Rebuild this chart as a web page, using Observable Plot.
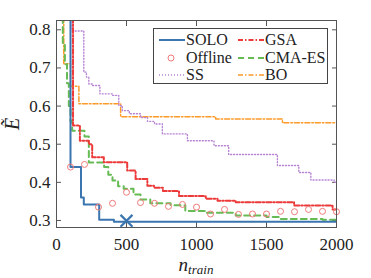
<!DOCTYPE html>
<html>
<head>
<meta charset="utf-8">
<script src="https://cdn.jsdelivr.net/npm/d3@7"></script>
<script src="https://cdn.jsdelivr.net/npm/@observablehq/plot@0.6"></script>
<style>
  body { margin: 0; background: #fff; }
  #wrap { position: relative; width: 371px; height: 278px; font-family: "Liberation Serif", "Times New Roman", Times, "Noto Serif", "DejaVu Serif", serif; }
  #wrap > svg { position: absolute; left: 0; top: 0; }
  #legend { position: absolute; left: 153px; top: 28px; width: 173px; height: 54px; border: 1px solid #444; background: #fff; font-size: 16px; color: #222; }
  .item { position: absolute; height: 18px; line-height: 18px; white-space: nowrap; }
  .item svg { position: absolute; left: 0; top: 0; }
  .item span { position: absolute; top: 0; white-space: nowrap; }
</style>
</head>
<body>
<div id="wrap"></div>
<script>
// ---- data ----
const soloN = [100, 100, 175, 195, 305, 410, 2000];
const soloE = [0.86, 0.44, 0.36, 0.342, 0.302, 0.297, 0.297];
const soloMarkN = [500];
const soloMarkE = [0.299];

const offlineN = [100, 200, 300, 400, 500, 600, 700, 800, 900, 1000, 1100, 1200, 1300, 1400, 1500, 1600, 1700, 1800, 1900, 2000];
const offlineE = [0.44, 0.447, 0.335, 0.345, 0.374, 0.347, 0.345, 0.337, 0.342, 0.335, 0.317, 0.329, 0.316, 0.317, 0.317, 0.324, 0.323, 0.329, 0.324, 0.323];

const ssN = [112, 112, 195, 214, 231, 255, 310, 400, 445, 470, 520, 600, 650, 700, 756, 935, 1125, 1230, 1578, 1731, 1817, 1983, 2000];
const ssE = [0.86, 0.797, 0.689, 0.676, 0.658, 0.654, 0.632, 0.628, 0.601, 0.588, 0.58, 0.57, 0.56, 0.553, 0.527, 0.509, 0.496, 0.473, 0.444, 0.426, 0.406, 0.400, 0.400];

const gsaN = [118, 118, 167, 231, 255, 338, 505, 565, 649, 696, 760, 875, 1066, 1150, 1280, 1697, 1972, 2000];
const gsaE = [0.86, 0.549, 0.509, 0.50, 0.466, 0.453, 0.431, 0.409, 0.391, 0.386, 0.377, 0.364, 0.357, 0.352, 0.348, 0.339, 0.329, 0.329];

const cmaN = [45, 45, 60, 75, 88, 100, 112, 200, 231, 340, 370, 400, 440, 480, 550, 600, 670, 815, 920, 1060, 1280, 1500, 1600, 1900, 2000];
const cmaE = [0.86, 0.76, 0.71, 0.66, 0.60, 0.56, 0.535, 0.52, 0.452, 0.44, 0.42, 0.405, 0.39, 0.383, 0.368, 0.355, 0.345, 0.34, 0.325, 0.32, 0.313, 0.309, 0.304, 0.302, 0.302];

const boN = [52, 52, 100, 160, 458, 1137, 1614, 2000];
const boE = [0.86, 0.711, 0.652, 0.606, 0.572, 0.566, 0.556, 0.556];

const xTicks = [0, 500, 1000, 1500, 2000];
const yTicks = [0.3, 0.4, 0.5, 0.6, 0.7, 0.8];

const colors = { solo: "#3b75af", gsa: "#ec3a3a", offline: "#f07a7a", cma: "#66bb55", ss: "#b784d4", bo: "#fd9a28" };
const serif = "'Liberation Serif', 'Times New Roman', Times, 'Noto Serif', 'DejaVu Serif', serif";

const zip = (ns, es) => ns.map((n, i) => ({ n, e: es[i] }));

const chart = Plot.plot({
  width: 371,
  height: 278,
  marginLeft: 56,
  marginRight: 35,
  marginTop: 20,
  marginBottom: 51,
  style: { fontFamily: serif, fontSize: "17px", color: "#222", background: "transparent" },
  x: { domain: [0, 2000] },
  y: { domain: [0.2816, 0.8244] },
  marks: [
    Plot.axisX({ ticks: xTicks, tickSize: -5, tickPadding: 15, tickFormat: d => String(d), label: null, stroke: "#555", fontSize: 17, fill: "#222" }),
    Plot.axisX({ anchor: "top", ticks: xTicks, tickSize: -5, tickFormat: () => "", label: null, stroke: "#555" }),
    Plot.axisY({ ticks: yTicks, tickSize: -5, tickPadding: 11, tickFormat: d3.format(".1f"), label: null, stroke: "#555", fontSize: 17, fill: "#222" }),
    Plot.axisY({ anchor: "right", ticks: yTicks, tickSize: -5, tickFormat: () => "", label: null, stroke: "#555" }),
    Plot.line(zip(boN, boE), { x: "n", y: "e", curve: "step-after", stroke: colors.bo, strokeWidth: 1.5, strokeDasharray: "5,2,1.5,2", clip: true }),
    Plot.line(zip(ssN, ssE), { x: "n", y: "e", curve: "step-after", stroke: colors.ss, strokeWidth: 1.4, strokeDasharray: "1,2", clip: true }),
    Plot.line(zip(cmaN, cmaE), { x: "n", y: "e", curve: "step-after", stroke: colors.cma, strokeWidth: 2, strokeDasharray: "6,4", clip: true }),
    Plot.line(zip(gsaN, gsaE), { x: "n", y: "e", curve: "step-after", stroke: colors.gsa, strokeWidth: 2, strokeDasharray: "5,2,1.5,2", clip: true }),
    Plot.line(zip(soloN, soloE), { x: "n", y: "e", curve: "step-after", stroke: colors.solo, strokeWidth: 2, clip: true }),
    Plot.dot(zip(offlineN, offlineE), { x: "n", y: "e", r: 3, stroke: colors.offline, strokeWidth: 1, fill: "none" }),
    Plot.dot(zip(soloMarkN, soloMarkE), { x: "n", y: "e", symbol: "times", r: 5.5, stroke: colors.solo, strokeWidth: 2.2 }),
    Plot.frame({ stroke: "#555", strokeWidth: 1 })
  ]
});

const wrap = document.getElementById("wrap");
wrap.appendChild(chart);

// axis labels as SVG text
const svg = d3.select(chart);
svg.append("text")
  .attr("transform", "translate(19,124) rotate(-90)")
  .attr("text-anchor", "middle")
  .attr("font-family", serif)
  .attr("font-style", "italic")
  .attr("font-size", 20)
  .attr("fill", "#222")
  .text("Ẽ");
const xt = svg.append("text")
  .attr("x", 196).attr("y", 271)
  .attr("text-anchor", "middle")
  .attr("font-family", serif)
  .attr("font-style", "italic")
  .attr("fill", "#222");
xt.append("tspan").attr("font-size", 19).text("n");
xt.append("tspan").attr("font-size", 13).attr("dy", 3).text("train");

// legend
const legendItems = [
  { label: "SOLO", color: colors.solo, dash: null, w: 2, col: 0, row: 0 },
  { label: "Offline", color: colors.offline, dash: null, w: 1, col: 0, row: 1, marker: true },
  { label: "SS", color: colors.ss, dash: "1,2", w: 1.4, col: 0, row: 2 },
  { label: "GSA", color: colors.gsa, dash: "5,2,1.5,2", w: 2, col: 1, row: 0 },
  { label: "CMA-ES", color: colors.cma, dash: "6,4", w: 2, col: 1, row: 1 },
  { label: "BO", color: colors.bo, dash: "5,2,1.5,2", w: 1.5, col: 1, row: 2 }
];
const legend = document.createElement("div");
legend.id = "legend";
legendItems.forEach(it => {
  const d = document.createElement("div");
  d.className = "item";
  d.style.left = (it.col === 0 ? 4 : 83) + "px";
  d.style.top = (2 + it.row * 17.7) + "px";
  const sample = it.marker
    ? `<svg width="28" height="18"><circle cx="13" cy="9" r="3" fill="none" stroke="${it.color}" stroke-width="1"/></svg>`
    : `<svg width="28" height="18"><line x1="1" x2="27" y1="9" y2="9" stroke="${it.color}" stroke-width="${it.w}" ${it.dash ? `stroke-dasharray="${it.dash}"` : ""}/></svg>`;
  d.innerHTML = sample + `<span style="left:28px">${it.label}</span>`;
  legend.appendChild(d);
});
wrap.appendChild(legend);
</script>
</body>
</html>
